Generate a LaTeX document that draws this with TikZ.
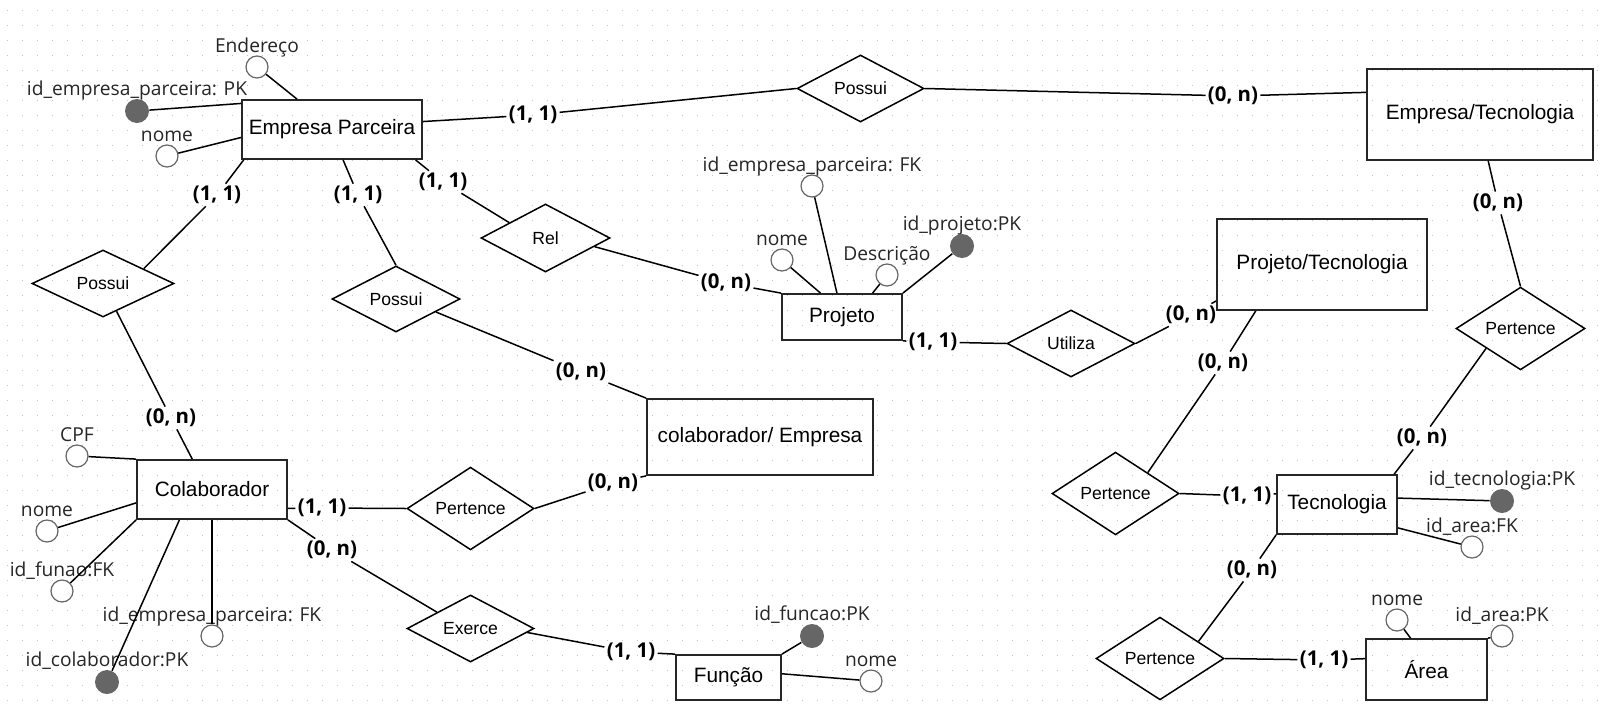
\documentclass[tikz,border=0pt]{standalone}
\usepackage{fontspec}
\setmainfont{Liberation Sans}
\newfontfamily\attrfamily{Open Sans}
\usetikzlibrary{shapes.geometric}

\definecolor{attrgray}{HTML}{666666}
\definecolor{dotgray}{HTML}{C4C4C4}

\newcommand\entfont{\fontsize{10.4pt}{12pt}\selectfont}
\newcommand\relfont{\fontsize{8.8pt}{10pt}\selectfont}
\newcommand\attrfont{\attrfamily\fontsize{9.6pt}{11pt}\selectfont}
\newcommand\cardfont{\attrfamily\bfseries\fontsize{10.2pt}{12pt}\selectfont}

\tikzset{
	entity/.style={draw=black!85,line width=0.9pt,inner sep=0pt,font=\entfont},
	relation/.style={draw,diamond,line width=0.75pt,inner sep=0pt,minimum width=64pt,minimum height=33.5pt,font=\relfont},
	attrib/.style={circle,draw=attrgray,fill=white,line width=0.6pt,minimum size=11pt,inner sep=0pt},
	pkattrib/.style={circle,fill=attrgray,minimum size=12pt,inner sep=0pt},
	attrlabel/.style={font=\attrfont,text=black!85,anchor=base,inner sep=0pt},
	card/.style={font=\cardfont,inner sep=1pt},
	link/.style={line width=0.75pt},
	dotrow/.style={dotgray,line width=0.7pt,dash pattern=on 0.7pt off 6.8pt}
}

\begin{document}
\begin{tikzpicture}[x=0.5pt,y=-0.5pt,label distance=1.5pt]
	%BACKGROUND
	\fill[white] (0,0) rectangle (1604,707);
	\useasboundingbox (0,0) rectangle (1604,707);
	\foreach \k in {0,...,46}
		\draw[dotrow] (6.6,10.7+15*\k)--(1604,10.7+15*\k);

	%ENTITIES
	\node[entity,minimum width=90pt,minimum height=29.5pt] (ep) at (332,129.5) {Empresa Parceira};
	\node[entity,minimum width=113pt,minimum height=45.5pt] (et) at (1480,114.5) {Empresa/Tecnologia};
	\node[entity,minimum width=60pt,minimum height=23pt] (pj) at (842,317) {Projeto};
	\node[entity,minimum width=105pt,minimum height=45.5pt] (pt) at (1322,264.5) {Projeto/Tecnologia};
	\node[entity,minimum width=113pt,minimum height=38pt] (ce) at (760,437) {colaborador/ Empresa};
	\node[entity,minimum width=75pt,minimum height=29.5pt] (co) at (212,489.5) {Colaborador};
	\node[entity,minimum width=52.5pt,minimum height=22.5pt] (fu) at (728.5,677.5) {Função};
	\node[entity,minimum width=60pt,minimum height=29.5pt] (te) at (1337,504.5) {Tecnologia};
	\node[entity,minimum width=60.5pt,minimum height=30.5pt] (ar) at (1426.5,669.5) {Área};

	%RELATIONSHIPS
	\node[relation,minimum width=63.5pt] (r1) at (860.5,88.5) {Possui};
	\node[relation,minimum width=71pt] (r2) at (103,283.5) {Possui};
	\node[relation,minimum height=33pt] (r3) at (396,299) {Possui};
	\node[relation,minimum width=64.5pt,minimum height=34pt] (r4) at (545.5,238) {Rel};
	\node[relation] (r5) at (1071,343.5) {Utiliza};
	\node[relation,minimum width=63.5pt] (r6) at (470.5,508.5) {Pertence};
	\node[relation,minimum width=63.5pt] (r7) at (470.5,628.5) {Exerce};
	\node[relation,minimum width=63.5pt] (r8) at (1115.5,493.5) {Pertence};
	\node[relation,minimum width=64.5pt] (r9) at (1520.5,328.5) {Pertence};
	\node[relation] (r10) at (1160,658.5) {Pertence};

	%ATTRIBUTES
	\node[attrib,label={[attrlabel,name=a1t]above:Endereço}] (a1) at (257,67) {};
	\node[pkattrib,label={[attrlabel,name=a2t]above:id\_empresa\_parceira: PK}] (a2) at (137,111) {};
	\node[attrib,label={[attrlabel,name=a3t]above:nome}] (a3) at (167,156) {};
	%
	\node[attrib,label={[attrlabel,name=a4t]above:id\_empresa\_parceira: FK}] (a4) at (812,186) {};
	\node[attrib,label={[attrlabel,name=a5t]above:nome}] (a5) at (782,260) {};
	\node[attrib,label={[attrlabel,name=a6t]above:Descrição}] (a6) at (887,275) {};
	\node[pkattrib,label={[attrlabel,name=a7t]above:id\_projeto:PK}] (a7) at (962,246) {};
	%
	\node[attrib,label={[attrlabel,name=a8t]above:CPF}] (a8) at (77,456) {};
	\node[attrib,label={[attrlabel,name=a9t]above:nome}] (a9) at (47,531) {};
	\node[attrib,label={[attrlabel,name=a10t]above:id\_funao:FK}] (a10) at (62,591) {};
	\node[attrib,label={[attrlabel,name=a11t]above:id\_empresa\_parceira: FK}] (a11) at (212,636) {};
	\node[pkattrib,label={[attrlabel,name=a12t]above:id\_colaborador:PK}] (a12) at (107,682) {};
	%
	\node[pkattrib,label={[attrlabel,name=a13t]above:id\_funcao:PK}] (a13) at (812,636) {};
	\node[attrib,label={[attrlabel,name=a14t]above:nome}] (a14) at (871,681) {};
	%
	\node[pkattrib,label={[attrlabel,name=a15t]above:id\_tecnologia:PK}] (a15) at (1502,501) {};
	\node[attrib,label={[attrlabel,name=a16t]above:id\_area:FK}] (a16) at (1472,547) {};
	\node[attrib,label={[attrlabel,name=a17t]above:nome}] (a17) at (1397,620) {};
	\node[attrib,label={[attrlabel,name=a18t]above:id\_area:PK}] (a18) at (1502,636) {};

	\draw[link] (a1)--(ep.139);
	\draw[link] (a2)--(ep.164);
	\draw[link] (a3)--(ep.185);
	\draw[link] (a4)--(pj.102);
	\draw[link] (a5)--(pj.132);
	\draw[link] (a6)--(pj.38);
	\draw[link] (a7)--(pj.north east);
	\draw[link] (a8)--(co.north west);
	\draw[link] (a9)--(co.190);
	\draw[link] (a10)--(co.south west);
	\draw[link] (a11)--(co.south);
	\draw[link] (a12)--(co.223);
	\draw[link] (a13)--(fu.north east);
	\draw[link] (a14)--(fu.4);
	\draw[link] (a15)--(te.6);
	\draw[link] (a16)--(te.339);
	\draw[link] (a17)--(ar.117);
	\draw[link] (a18)--(ar.north east);

	%CARDINALITIES
	\node[card] (c1) at (533,115) {(1, 1)};
	\node[card] (c2) at (1233,96) {(0, n)};
	\node[card] (c3) at (217,195) {(1, 1)};
	\node[card] (c4) at (358,195) {(1, 1)};
	\node[card] (c5) at (443,182) {(1, 1)};
	\node[card] (c6) at (171,418) {(0, n)};
	\node[card] (c7) at (581,372) {(0, n)};
	\node[card] (c8) at (726,283) {(0, n)};
	\node[card] (c9) at (933,342) {(1, 1)};
	\node[card] (c10) at (1191,315) {(0, n)};
	\node[card] (c11) at (1223,363) {(0, n)};
	\node[card] (c12) at (1247,496) {(1, 1)};
	\node[card] (c13) at (1498,203) {(0, n)};
	\node[card] (c14) at (1422,438) {(0, n)};
	\node[card] (c15) at (1252,570) {(0, n)};
	\node[card] (c16) at (1324,660) {(1, 1)};
	\node[card] (c17) at (322,508) {(1, 1)};
	\node[card] (c18) at (613,483) {(0, n)};
	\node[card] (c19) at (332,550) {(0, n)};
	\node[card] (c20) at (631,652) {(1, 1)};

	%CONNECTORS
	\draw[link] (ep.5)--(c1)--(r1.west);
	\draw[link] (r1.east)--(c2)--(et.169);
	\draw[link] (ep.199)--(c3)--(r2.20);
	\draw[link] (r2.296)--(c6)--(co.123);
	\draw[link] (ep.290)--(c4)--(r3.north);
	\draw[link] (r3.342)--(c7)--(ce.north west);
	\draw[link] (ep.340)--(c5)--(r4.157);
	\draw[link] (r4.350)--(c8)--(pj.north west);
	\draw[link] (pj.south east)--(c9)--(r5.west);
	\draw[link] (r5.east)--(c10)--(pt.199);
	\draw[link] (pt.215)--(c11)--(r8.33);
	\draw[link] (r8.east)--(c12)--(te.170);
	\draw[link] (et.280)--(c13)--(r9.north);
	\draw[link] (r9.210)--(c14)--(te.28);
	\draw[link] (te.south west)--(c15)--(r10.24);
	\draw[link] (r10.east)--(c16)--(ar.170);
	\draw[link] (co.346)--(c17)--(r6.west);
	\draw[link] (r6.east)--(c18)--(ce.south west);
	\draw[link] (co.south east)--(c19)--(r7.154);
	\draw[link] (r7.356)--(c20)--(fu.north west);
\end{tikzpicture}
\end{document}
